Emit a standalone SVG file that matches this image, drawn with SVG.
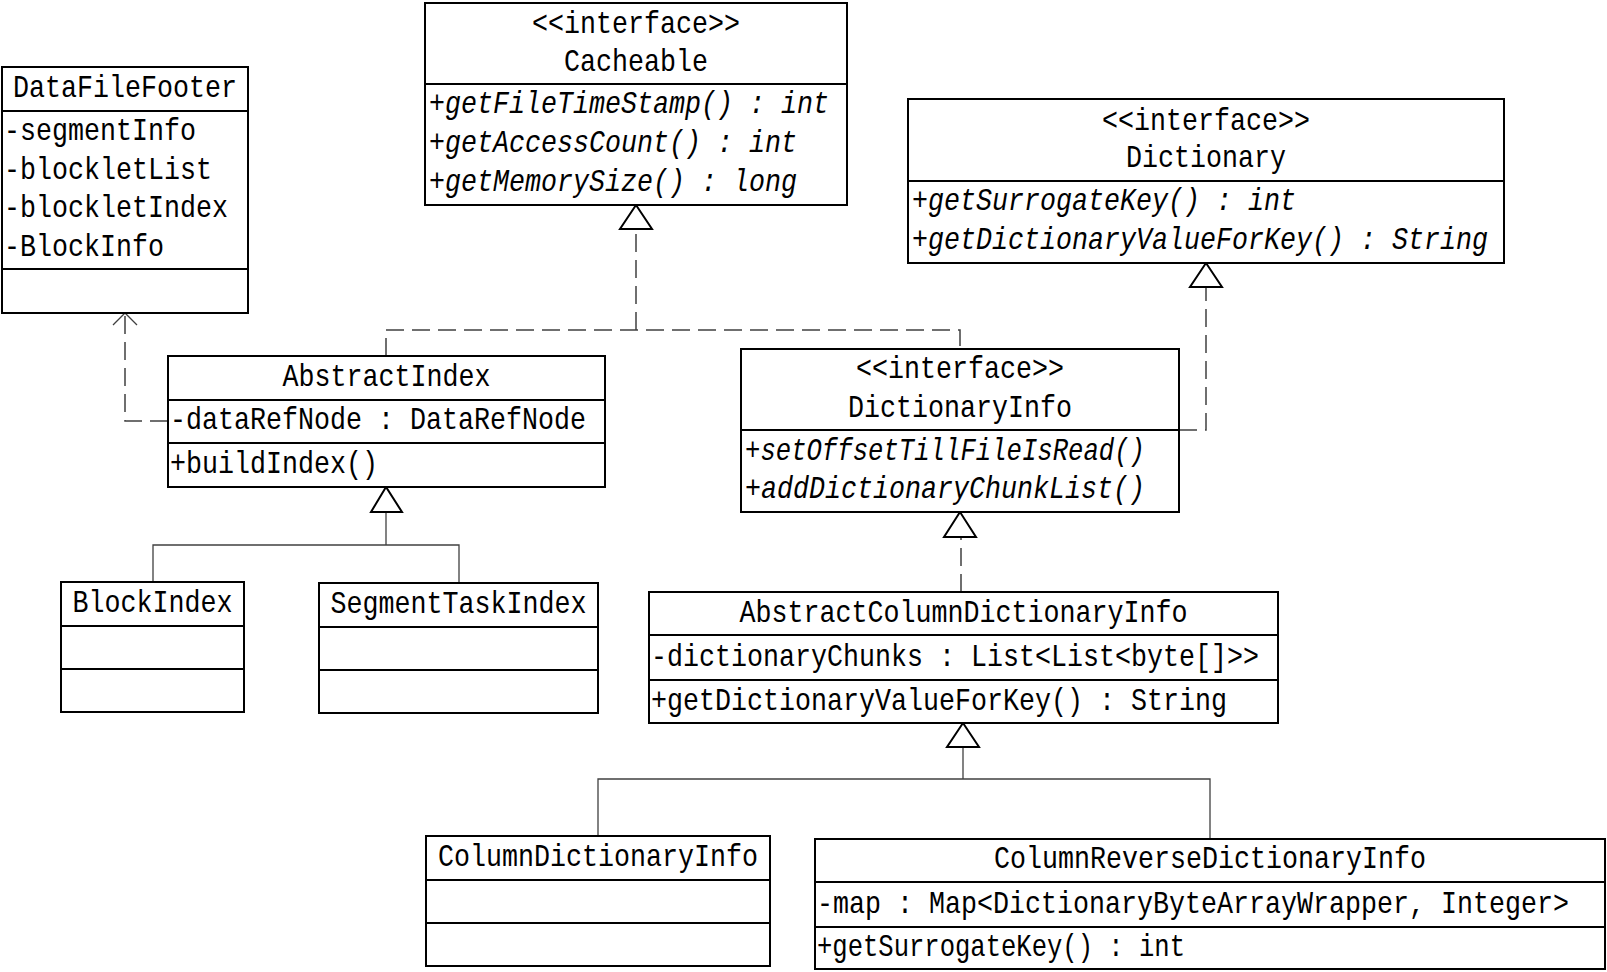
<svg xmlns="http://www.w3.org/2000/svg" width="1607" height="972" viewBox="0 0 1607 972">
<style>
.box{fill:#fff;stroke:#000;stroke-width:2}
.sep{stroke:#000;stroke-width:2}
text{font-family:"Liberation Mono","DejaVu Sans Mono",monospace;font-size:32px;fill:#000}
.it{font-style:italic}
.con{fill:none;stroke:#404040;stroke-width:1.3}
.dash{fill:none;stroke:#404040;stroke-width:1.5;stroke-dasharray:18,8}
.tri{fill:#fff;stroke:#000;stroke-width:2}
</style>
<rect width="1607" height="972" fill="#fff"/>
<g id="connectors">
  <path class="dash" d="M386,356 V330 H960 V349"/>
  <path class="dash" d="M636,330 V229"/>
  <polygon class="tri" points="636,205 620,229 652,229"/>
  <path class="dash" d="M1179,430 H1206 V287"/>
  <polygon class="tri" points="1206,263 1190,287 1222,287"/>
  <path class="dash" d="M961,592 V537"/>
  <polygon class="tri" points="960,512 944,537 976,537"/>
  <path class="con" d="M386,512 V545"/>
  <path class="con" d="M153,582 V545 H459 V583"/>
  <polygon class="tri" points="386,487 371,512 402,512"/>
  <path class="con" d="M963,747 V779"/>
  <path class="con" d="M598,836 V779 H1210 V839"/>
  <polygon class="tri" points="963,723 947,747 979,747"/>
  <path class="dash" d="M168,421 H125 V314"/>
  <polyline class="con" points="113,325 125,313 137,325"/>
</g>
<g id="DataFileFooter">
  <rect class="box" x="2" y="67" width="246" height="246"/>
  <line class="sep" x1="2" y1="111" x2="248" y2="111"/>
  <line class="sep" x1="2" y1="269" x2="248" y2="269"/>
  <text x="13" y="97" textLength="224" lengthAdjust="spacingAndGlyphs">DataFileFooter</text>
  <text x="4" y="140" textLength="192" lengthAdjust="spacingAndGlyphs">-segmentInfo</text>
  <text x="4" y="178.5" textLength="208" lengthAdjust="spacingAndGlyphs">-blockletList</text>
  <text x="4" y="217" textLength="224" lengthAdjust="spacingAndGlyphs">-blockletIndex</text>
  <text x="4" y="255.5" textLength="160" lengthAdjust="spacingAndGlyphs">-BlockInfo</text>
</g>
<g id="Cacheable">
  <rect class="box" x="425" y="3" width="422" height="202"/>
  <line class="sep" x1="425" y1="84" x2="847" y2="84"/>
  <text x="532" y="33" textLength="208" lengthAdjust="spacingAndGlyphs">&lt;&lt;interface&gt;&gt;</text>
  <text x="564" y="71" textLength="144" lengthAdjust="spacingAndGlyphs">Cacheable</text>
  <text class="it" x="429" y="113" textLength="400" lengthAdjust="spacingAndGlyphs">+getFileTimeStamp() : int</text>
  <text class="it" x="429" y="152" textLength="368" lengthAdjust="spacingAndGlyphs">+getAccessCount() : int</text>
  <text class="it" x="429" y="191" textLength="368" lengthAdjust="spacingAndGlyphs">+getMemorySize() : long</text>
</g>
<g id="Dictionary">
  <rect class="box" x="908" y="99" width="596" height="164"/>
  <line class="sep" x1="908" y1="181" x2="1504" y2="181"/>
  <text x="1102" y="130" textLength="208" lengthAdjust="spacingAndGlyphs">&lt;&lt;interface&gt;&gt;</text>
  <text x="1126" y="167" textLength="160" lengthAdjust="spacingAndGlyphs">Dictionary</text>
  <text class="it" x="912" y="210" textLength="384" lengthAdjust="spacingAndGlyphs">+getSurrogateKey() : int</text>
  <text class="it" x="912" y="249" textLength="576" lengthAdjust="spacingAndGlyphs">+getDictionaryValueForKey() : String</text>
</g>
<g id="AbstractIndex">
  <rect class="box" x="168" y="356" width="437" height="131"/>
  <line class="sep" x1="168" y1="400" x2="605" y2="400"/>
  <line class="sep" x1="168" y1="443" x2="605" y2="443"/>
  <text x="282.5" y="386" textLength="208" lengthAdjust="spacingAndGlyphs">AbstractIndex</text>
  <text x="170" y="429" textLength="416" lengthAdjust="spacingAndGlyphs">-dataRefNode : DataRefNode</text>
  <text x="170" y="473" textLength="208" lengthAdjust="spacingAndGlyphs">+buildIndex()</text>
</g>
<g id="DictionaryInfo">
  <rect class="box" x="741" y="349" width="438" height="163"/>
  <line class="sep" x1="741" y1="430" x2="1179" y2="430"/>
  <text x="856" y="378" textLength="208" lengthAdjust="spacingAndGlyphs">&lt;&lt;interface&gt;&gt;</text>
  <text x="848" y="417" textLength="224" lengthAdjust="spacingAndGlyphs">DictionaryInfo</text>
  <text class="it" x="745" y="460" textLength="400" lengthAdjust="spacingAndGlyphs">+setOffsetTillFileIsRead()</text>
  <text class="it" x="745" y="498" textLength="400" lengthAdjust="spacingAndGlyphs">+addDictionaryChunkList()</text>
</g>
<g id="BlockIndex">
  <rect class="box" x="61" y="582" width="183" height="130"/>
  <line class="sep" x1="61" y1="626" x2="244" y2="626"/>
  <line class="sep" x1="61" y1="669" x2="244" y2="669"/>
  <text x="72.5" y="612" textLength="160" lengthAdjust="spacingAndGlyphs">BlockIndex</text>
</g>
<g id="SegmentTaskIndex">
  <rect class="box" x="319" y="583" width="279" height="130"/>
  <line class="sep" x1="319" y1="627" x2="598" y2="627"/>
  <line class="sep" x1="319" y1="670" x2="598" y2="670"/>
  <text x="330.5" y="613" textLength="256" lengthAdjust="spacingAndGlyphs">SegmentTaskIndex</text>
</g>
<g id="AbstractColumnDictionaryInfo">
  <rect class="box" x="649" y="592" width="629" height="131"/>
  <line class="sep" x1="649" y1="635" x2="1278" y2="635"/>
  <line class="sep" x1="649" y1="680" x2="1278" y2="680"/>
  <text x="739.5" y="622" textLength="448" lengthAdjust="spacingAndGlyphs">AbstractColumnDictionaryInfo</text>
  <text x="651" y="666" textLength="608" lengthAdjust="spacingAndGlyphs">-dictionaryChunks : List&lt;List&lt;byte[]&gt;&gt;</text>
  <text x="651" y="710" textLength="576" lengthAdjust="spacingAndGlyphs">+getDictionaryValueForKey() : String</text>
</g>
<g id="ColumnDictionaryInfo">
  <rect class="box" x="426" y="836" width="344" height="130"/>
  <line class="sep" x1="426" y1="880" x2="770" y2="880"/>
  <line class="sep" x1="426" y1="923" x2="770" y2="923"/>
  <text x="438" y="866" textLength="320" lengthAdjust="spacingAndGlyphs">ColumnDictionaryInfo</text>
</g>
<g id="ColumnReverseDictionaryInfo">
  <rect class="box" x="815" y="839" width="790" height="130"/>
  <line class="sep" x1="815" y1="882" x2="1605" y2="882"/>
  <line class="sep" x1="815" y1="927" x2="1605" y2="927"/>
  <text x="994" y="868" textLength="432" lengthAdjust="spacingAndGlyphs">ColumnReverseDictionaryInfo</text>
  <text x="817" y="913" textLength="752" lengthAdjust="spacingAndGlyphs">-map : Map&lt;DictionaryByteArrayWrapper, Integer&gt;</text>
  <text x="817" y="956" textLength="368" lengthAdjust="spacingAndGlyphs">+getSurrogateKey() : int</text>
</g>
</svg>
